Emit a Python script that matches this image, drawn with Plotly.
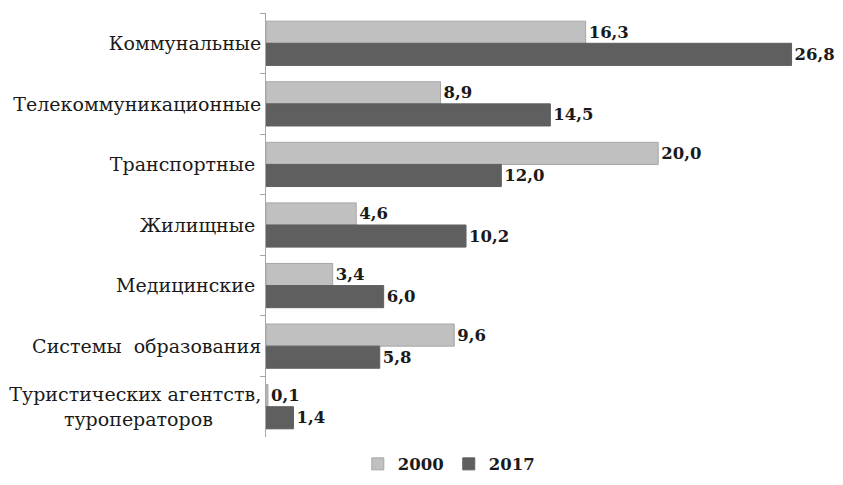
import plotly.graph_objects as go

categories = ["Коммунальные", "Телекоммуникационные", "Транспортные ", "Жилищные ", "Медицинские ",
              "Системы  образования", "Туристических агентств,<br>туроператоров\u00a0\u00a0\u00a0\u00a0\u00a0\u00a0\u00a0\u00a0"]
years = ["2000", "2017"]
values_2000 = [16.3, 8.9, 20.0, 4.6, 3.4, 9.6, 0.1]
values_2017 = [26.8, 14.5, 12.0, 10.2, 6.0, 5.8, 1.4]

serif = "DejaVu Serif"
fig = go.Figure()
fig.add_trace(go.Bar(
    y=categories, x=values_2000, name="<b>" + years[0] + "</b>", orientation="h",
    marker=dict(color="#c0c0c0", line=dict(color="#a6a6a6", width=1)),
    texttemplate="<b>%{x:.1f}</b>", textposition="outside", cliponaxis=False,
    textfont=dict(family=serif, size=16.5, color="#1a1a1a"),
))
fig.add_trace(go.Bar(
    y=categories, x=values_2017, name="<b>" + years[1] + "</b>", orientation="h",
    marker=dict(color="#5f5f5f", line=dict(color="#5f5f5f", width=1)),
    texttemplate="<b>%{x:.1f}</b>", textposition="outside", cliponaxis=False,
    textfont=dict(family=serif, size=16.5, color="#1a1a1a"),
))
fig.update_layout(
    width=835, height=477,
    margin=dict(l=258, r=23, t=5, b=48, autoexpand=False),
    barmode="group", bargap=0.27, bargroupgap=0.0,
    separators=", ",
    plot_bgcolor="white", paper_bgcolor="white",
    font=dict(family=serif, size=19, color="#1a1a1a"),
    showlegend=True,
    legend=dict(orientation="h", x=0.33, xanchor="center", y=-0.064, yanchor="middle",
                font=dict(family=serif, size=16.5, color="#1a1a1a"), itemwidth=30,
                traceorder="normal"),
)
fig.update_xaxes(range=[0, 28.25], visible=False, automargin=False)
fig.update_yaxes(autorange="reversed", type="category", showline=True, linecolor="#a6a6a6",
                 linewidth=1, ticks="outside", tickson="boundaries", ticklen=5, automargin=False,
                 tickcolor="#a6a6a6", showgrid=False, tickfont=dict(family=serif, size=19, color="#1a1a1a"))
fig.write_html("out.html")
